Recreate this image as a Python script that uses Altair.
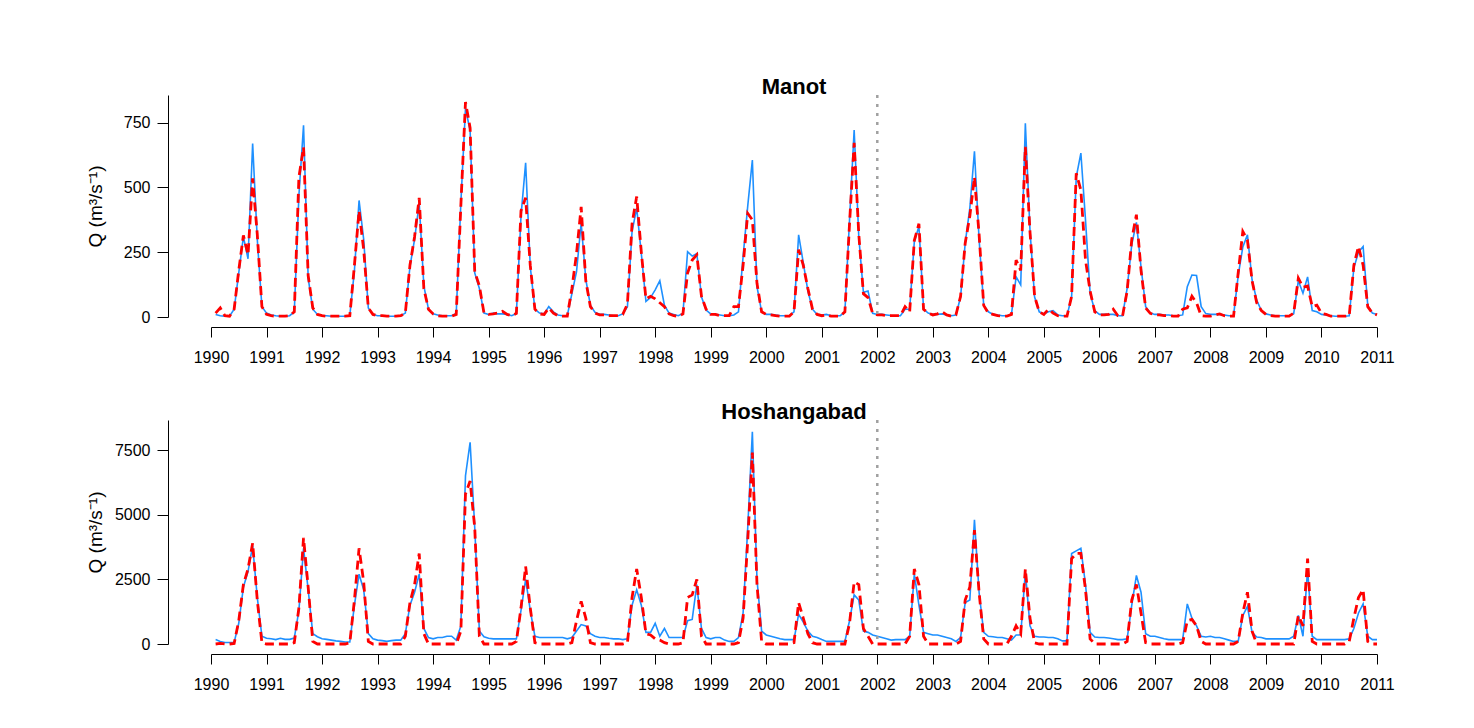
import altair as alt
import pandas as pd

# ---------------- data (monthly, Jan 1990 - Dec 2010) ----------------
years = list(range(1990, 2011))
x_ticks = list(range(1990, 2012))

# Manot observed (blue) - one row per year, Jan..Dec
manot_obs = [
    10, 5, 3, 3, 30, 170, 310, 225, 670, 300, 40, 15,      # 1990
    8, 5, 3, 3, 5, 20, 470, 740, 150, 30, 10, 5,           # 1991
    5, 3, 3, 3, 3, 5, 180, 450, 300, 35, 10, 5,            # 1992
    5, 3, 3, 3, 5, 15, 195, 300, 440, 120, 30, 12,         # 1993
    8, 5, 5, 5, 14, 440, 805, 720, 170, 110, 15, 10,       # 1994
    15, 12, 12, 10, 5, 14, 390, 595, 195, 30, 15, 12,      # 1995
    40, 20, 8, 5, 5, 90, 175, 363, 145, 45, 18, 10,        # 1996
    10, 8, 5, 5, 12, 40, 330, 420, 245, 60, 75, 105,       # 1997
    140, 45, 15, 10, 5, 14, 252, 235, 245, 78, 27, 12,     # 1998
    10, 8, 5, 5, 8, 20, 234, 428, 606, 117, 20, 10,        # 1999
    10, 8, 5, 5, 5, 20, 317, 210, 100, 30, 10, 8,          # 2000
    10, 5, 5, 5, 20, 375, 722, 310, 95, 100, 14, 10,       # 2001
    10, 8, 6, 5, 5, 30, 30, 290, 350, 30, 15, 10,          # 2002
    10, 12, 8, 5, 8, 77, 285, 420, 640, 300, 45, 20,       # 2003
    10, 8, 5, 5, 10, 155, 124, 748, 336, 77, 20, 12,       # 2004
    20, 25, 8, 5, 5, 78, 540, 633, 375, 90, 25, 10,        # 2005
    10, 10, 10, 5, 5, 110, 280, 365, 193, 40, 15, 10,      # 2006
    10, 8, 8, 5, 5, 8, 117, 162, 160, 40, 13, 10,          # 2007
    10, 10, 8, 5, 5, 160, 270, 317, 143, 65, 25, 12,       # 2008
    8, 5, 5, 5, 5, 13, 140, 92, 155, 25, 20, 10,           # 2009
    8, 5, 3, 3, 3, 5, 190, 250, 272, 45, 15, 10,           # 2010
]

# Manot simulated (red dashed)
manot_sim = [
    15, 35, 5, 3, 30, 180, 315, 240, 535, 320, 40, 10,     # 1990
    5, 3, 3, 3, 5, 20, 540, 655, 160, 35, 10, 5,           # 1991
    3, 3, 3, 3, 3, 5, 200, 410, 260, 35, 10, 5,            # 1992
    5, 3, 3, 3, 5, 15, 200, 310, 460, 110, 30, 12,         # 1993
    5, 3, 3, 3, 10, 430, 830, 730, 175, 120, 15, 10,       # 1994
    12, 15, 22, 10, 5, 14, 410, 460, 200, 30, 12, 10,      # 1995
    35, 15, 5, 3, 3, 110, 245, 425, 140, 40, 15, 8,        # 1996
    8, 5, 5, 5, 10, 50, 360, 465, 250, 70, 80, 70,         # 1997
    55, 40, 12, 5, 3, 12, 170, 220, 240, 80, 30, 10,       # 1998
    10, 5, 5, 5, 40, 40, 200, 400, 375, 130, 20, 10,       # 1999
    8, 5, 3, 3, 3, 20, 260, 200, 110, 30, 10, 5,           # 2000
    8, 3, 3, 3, 20, 360, 672, 320, 90, 75, 14, 8,          # 2001
    8, 5, 5, 5, 5, 40, 20, 295, 360, 30, 15, 8,            # 2002
    12, 20, 8, 3, 8, 80, 285, 390, 540, 320, 45, 15,       # 2003
    10, 5, 3, 3, 10, 220, 180, 657, 330, 80, 20, 10,       # 2004
    30, 15, 5, 3, 3, 80, 555, 490, 220, 100, 20, 8,        # 2005
    8, 10, 30, 5, 3, 100, 300, 395, 180, 35, 14, 8,        # 2006
    8, 5, 5, 3, 3, 30, 35, 80, 55, 5, 3, 3,                # 2007
    8, 12, 5, 3, 3, 170, 330, 297, 140, 55, 25, 10,        # 2008
    5, 3, 3, 3, 3, 15, 150, 115, 120, 40, 46, 14,          # 2009
    10, 3, 3, 3, 3, 5, 200, 272, 200, 40, 15, 8,           # 2010
]

# Hoshangabad observed (blue)
hosh_obs = [
    170, 100, 60, 60, 60, 800, 2200, 2800, 3800, 1800, 300, 220,       # 1990
    200, 170, 220, 180, 180, 230, 1300, 3700, 2100, 400, 280, 200,     # 1991
    180, 150, 120, 100, 80, 80, 1500, 2700, 2100, 400, 200, 150,       # 1992
    130, 100, 130, 150, 150, 400, 1500, 2000, 2700, 600, 250, 200,     # 1993
    250, 250, 300, 300, 150, 700, 6500, 7800, 4500, 500, 280, 220,     # 1994
    200, 200, 200, 200, 200, 200, 1300, 2500, 1300, 300, 250, 250,     # 1995
    250, 250, 250, 250, 200, 250, 500, 750, 700, 400, 300, 250,        # 1996
    250, 220, 200, 200, 170, 200, 1500, 2100, 1500, 450, 450, 800,     # 1997
    300, 600, 250, 250, 250, 250, 900, 950, 2300, 600, 250, 200,       # 1998
    250, 250, 150, 100, 100, 250, 1200, 4500, 8200, 2500, 500, 350,    # 1999
    300, 250, 200, 170, 170, 170, 1150, 850, 500, 300, 250, 170,       # 2000
    100, 100, 100, 100, 100, 900, 1900, 1700, 500, 450, 350, 300,      # 2001
    250, 200, 150, 170, 170, 170, 300, 2700, 1500, 450, 400, 350,      # 2002
    350, 300, 250, 200, 100, 250, 1600, 1700, 4800, 2000, 450, 300,    # 2003
    280, 250, 250, 200, 150, 350, 350, 2800, 700, 300, 270, 270,       # 2004
    250, 250, 200, 120, 120, 3500, 3600, 3700, 2300, 450, 270, 250,    # 2005
    250, 230, 200, 170, 170, 200, 1500, 2650, 2000, 400, 300, 300,     # 2006
    250, 200, 170, 170, 170, 170, 1550, 1000, 700, 300, 270, 300,      # 2007
    250, 250, 200, 150, 100, 100, 1100, 1450, 450, 270, 250, 200,      # 2008
    200, 200, 200, 200, 200, 300, 1100, 300, 2900, 300, 170, 170,      # 2009
    170, 170, 170, 170, 170, 200, 600, 1200, 1550, 300, 170, 170,      # 2010
]

# Hoshangabad simulated (red dashed)
hosh_sim = [
    0, 20, 0, 0, 20, 900, 2300, 2900, 3900, 1700, 50, 0,      # 1990
    0, 0, 0, 0, 0, 50, 1400, 4100, 2200, 100, 0, 0,           # 1991
    0, 0, 0, 0, 0, 50, 1700, 3700, 2400, 100, 0, 0,           # 1992
    0, 0, 0, 0, 0, 300, 1600, 2300, 3500, 400, 0, 0,          # 1993
    0, 0, 0, 0, 0, 500, 5800, 6300, 4500, 300, 0, 0,          # 1994
    0, 0, 0, 0, 0, 100, 1400, 3000, 1400, 50, 0, 0,           # 1995
    0, 0, 0, 0, 0, 50, 900, 1650, 1000, 50, 0, 0,             # 1996
    0, 0, 0, 0, 0, 50, 1800, 2900, 1800, 400, 350, 200,       # 1997
    150, 50, 0, 0, 0, 50, 1800, 1900, 2500, 300, 0, 0,        # 1998
    0, 0, 0, 0, 0, 50, 1000, 4000, 7400, 2300, 100, 0,        # 1999
    0, 0, 0, 0, 0, 50, 1600, 1000, 400, 50, 0, 0,             # 2000
    0, 0, 0, 0, 0, 800, 2400, 2300, 600, 300, 0, 0,           # 2001
    0, 0, 0, 0, 0, 0, 300, 2900, 2300, 300, 0, 0,             # 2002
    0, 0, 0, 0, 0, 100, 1700, 2200, 4400, 2000, 200, 0,       # 2003
    0, 0, 0, 0, 300, 700, 400, 2900, 1000, 50, 0, 0,          # 2004
    0, 0, 0, 0, 0, 3300, 3500, 3500, 2100, 200, 0, 0,         # 2005
    0, 0, 0, 0, 0, 100, 1700, 2300, 1200, 50, 0, 0,           # 2006
    0, 0, 0, 0, 0, 50, 900, 950, 700, 100, 0, 0,              # 2007
    0, 0, 0, 0, 0, 100, 1200, 2000, 500, 0, 0, 0,             # 2008
    0, 0, 0, 0, 0, 0, 1100, 700, 3300, 100, 0, 0,             # 2009
    0, 0, 0, 0, 0, 100, 1000, 1800, 2100, 100, 0, 0,          # 2010
]

split_year = [2002]
manot_yticks = [0, 250, 500, 750]
hosh_yticks = [0, 2500, 5000, 7500]

# time axis: month i of the series at year + (month index + 1) / 12
n = len(manot_obs)
t = [1990 + (i + 1) / 12 for i in range(n)]

FONT = "Liberation Sans"
BLUE = "#1E90FF"
RED = "#FF0000"
YTITLE = "Q (m³/s⁻¹)"


def panel(title, obs, sim, ymax, yticks, height):
    df = pd.DataFrame({"t": t, "obs": obs, "sim": sim})
    xs = alt.Scale(domain=[1990, 2011], nice=False, zero=False)
    ys = alt.Scale(domain=[0, ymax], nice=False, zero=True)
    xax = alt.Axis(values=x_ticks, format="d", title=None, offset=10,
                   tickSize=10, labelPadding=12, labelFlush=False,
                   labelOverlap=False)
    yax = alt.Axis(values=yticks, format="d", title=YTITLE, offset=43,
                   tickSize=11, labelPadding=7, labelAngle=0, titleX=-73,
                   titleY=height / 2, titleAngle=-90, titleAlign="center",
                   titleBaseline="middle")
    base = alt.Chart(df)
    blue = base.mark_line(color=BLUE, strokeWidth=1.6).encode(
        x=alt.X("t:Q", scale=xs, axis=xax),
        y=alt.Y("obs:Q", scale=ys, axis=yax),
    )
    red = base.mark_line(color=RED, strokeWidth=2.8, strokeDash=[9, 5]).encode(
        x=alt.X("t:Q", scale=xs, axis=xax),
        y=alt.Y("sim:Q", scale=ys, axis=yax),
    )
    rule = alt.Chart(pd.DataFrame({"t": split_year})).mark_rule(
        color="#A0A0A0", strokeWidth=2.5, strokeDash=[3, 6]
    ).encode(x=alt.X("t:Q", scale=xs, axis=xax))
    return alt.layer(blue, red, rule).properties(
        width=1166,
        height=height,
        title=alt.TitleParams(
            title, font=FONT, fontSize=22, fontWeight="bold", color="black",
            anchor="middle", frame="group", baseline="alphabetic", offset=1,
            dy=23,
        ),
    )


top = panel("Manot", manot_obs, manot_sim, 857, manot_yticks, 222)
bottom = panel("Hoshangabad", hosh_obs, hosh_sim, 8660, hosh_yticks, 224)

chart = alt.vconcat(top, bottom, spacing=103, bounds="flush").properties(
    padding={"left": 78, "top": 67, "right": 5, "bottom": 5},
    background="white",
).configure_view(stroke=None).configure_axis(
    grid=False,
    domainColor="black",
    domainWidth=1,
    tickColor="black",
    tickWidth=1,
    labelColor="black",
    labelFont=FONT,
    labelFontSize=16,
    titleColor="black",
    titleFont=FONT,
    titleFontSize=19,
    titleFontWeight="normal",
)

chart.save("out.html", embed_options={"renderer": "svg", "actions": False})
